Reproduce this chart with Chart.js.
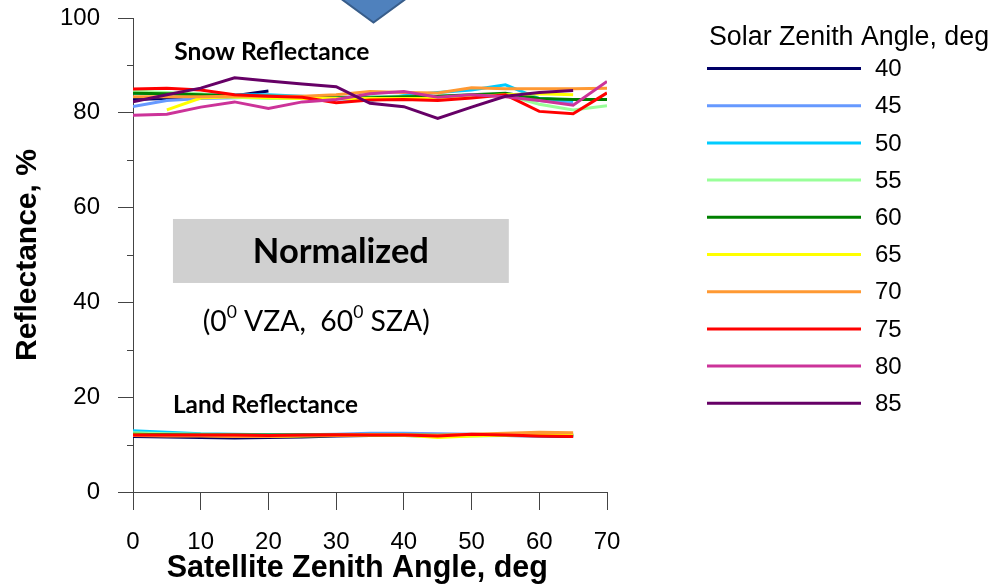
<!DOCTYPE html>
<html>
<head>
<meta charset="utf-8">
<script src="https://cdn.jsdelivr.net/npm/chart.js@4.4.1/dist/chart.umd.min.js"></script>
<style>
  html, body { margin: 0; padding: 0; background: #ffffff; }
  canvas { display: block; }
</style>
</head>
<body>
<canvas id="chart" width="1005" height="586"></canvas>
<script>
// Satellite zenith angles (deg) along the x axis
const viewAngles = [0, 5, 10, 15, 20, 25, 30, 35, 40, 45, 50, 55, 60, 65, 70];

// Solar zenith angle of each series and its line colour
const solarAngles = ['40', '45', '50', '55', '60', '65', '70', '75', '80', '85'];
const seriesColors = ['#000066', '#6699ff', '#00ccff', '#99ff99', '#008000',
                      '#ffff00', '#ff9933', '#ff0000', '#cc3399', '#660066'];

// Snow reflectance, %  (null = no value at that angle)
const snow40 = [82.8, 83.0, 83.2, 83.6, 84.6, null, null, null, null, null, null, null, null, null, null];
const snow45 = [81.3, 82.6, 83.0, 83.2, 83.4, 83.4, 83.3, 83.4, 83.5, 83.5, 83.6, 83.8, 82.6, 82.0, null];
const snow50 = [84.1, 84.0, 83.8, 83.8, 83.8, 83.5, 83.0, 82.6, 83.6, 84.3, 84.8, 85.9, 83.0, 82.6, null];
const snow55 = [84.6, 84.3, 84.0, 83.3, 83.0, 83.0, 83.2, 83.4, 83.4, 83.5, 83.6, 83.8, 81.8, 80.6, 81.5];
const snow60 = [84.1, 84.0, 83.8, 83.6, 83.5, 83.4, 83.2, 83.2, 83.4, 83.5, 83.8, 84.1, 83.0, 82.8, 82.8];
const snow65 = [null, 80.6, 83.1, 83.4, 83.2, 83.0, 83.0, 83.0, 83.0, 83.0, 83.4, 83.8, 84.0, 83.8, null];
const snow70 = [83.4, 83.4, 83.4, 83.5, 83.5, 83.5, 83.8, 84.5, 84.3, 84.2, 85.3, 85.1, 85.1, 85.1, 85.2];
const snow75 = [85.0, 85.2, 84.8, 83.8, 83.5, 83.3, 82.1, 82.7, 82.8, 82.6, 83.1, 83.8, 80.3, 79.8, 84.2];
const snow80 = [79.5, 79.7, 81.2, 82.3, 80.9, 82.3, 82.8, 84.0, 84.5, 83.3, 83.8, 83.4, 82.6, 81.6, 86.6];
const snow85 = [82.3, 83.8, 85.2, 87.4, 86.7, 86.1, 85.5, 82.0, 81.3, 78.8, 81.2, 83.5, 84.3, 84.7, null];

// Land reflectance, %
const land40 = [11.7, 11.6, 11.5, 11.4, 11.5, 11.6, 11.8, 11.9, 11.9, 11.8, 11.9, 11.9, 11.8, 11.7, null];
const land45 = [12.3, 12.1, 12.0, 12.0, 12.0, 12.1, 12.2, 12.4, 12.4, 12.3, 12.2, 12.1, 12.0, 11.9, null];
const land50 = [12.9, 12.6, 12.3, 12.2, 12.1, 12.1, 12.1, 12.2, 12.2, 12.1, 12.1, 12.0, 12.0, 11.9, null];
const land55 = [12.5, 12.3, 12.2, 12.1, 12.0, 12.0, 12.0, 12.0, 11.9, 11.7, 11.8, 11.9, 12.0, 12.0, null];
const land60 = [12.2, 12.1, 12.0, 12.0, 12.0, 12.0, 12.0, 12.0, 12.0, 11.9, 12.0, 12.0, 12.0, 12.0, null];
const land65 = [12.0, 11.9, 11.9, 11.8, 11.7, 11.8, 11.9, 12.0, 12.0, 11.5, 11.8, 12.0, 12.1, 12.2, null];
const land70 = [11.9, 11.8, 11.8, 11.7, 11.7, 11.9, 12.0, 12.1, 12.1, 12.0, 12.2, 12.4, 12.6, 12.5, null];
const land75 = [12.0, 12.0, 12.0, 12.0, 11.9, 12.0, 12.1, 12.0, 12.0, 11.8, 12.2, 12.0, 11.8, 11.7, null];

const snowSeries = [snow40, snow45, snow50, snow55, snow60, snow65, snow70, snow75, snow80, snow85];
const landSeries = [land40, land45, land50, land55, land60, land65, land70, land75];

// Y-axis tick values (labelled every 20, minor marks in between)
const yTickStep = 10;
const yLabelStep = 20;

const FONT = '"Liberation Sans", Arial, sans-serif';
const NOTE_FONT = 'Lato, "Open Sans", sans-serif';

function toPoints(values) {
  return viewAngles.map((a, i) => ({ x: a, y: values[i] }));
}

const datasets = [];
snowSeries.forEach((vals, i) => {
  datasets.push({
    label: solarAngles[i],
    data: toPoints(vals),
    borderColor: seriesColors[i],
    backgroundColor: seriesColors[i],
    borderWidth: 3,
    pointRadius: 0,
    tension: 0,
    order: 100 - i,
    isSnow: true
  });
});
landSeries.forEach((vals, i) => {
  datasets.push({
    label: 'land ' + solarAngles[i],
    data: toPoints(vals),
    borderColor: seriesColors[i],
    backgroundColor: seriesColors[i],
    borderWidth: 3,
    pointRadius: 0,
    tension: 0,
    order: 100 - i,
    isSnow: false
  });
});

function fitSize(ctx, text, weight, family, width) {
  ctx.font = weight + ' 100px ' + family;
  return 100 * width / ctx.measureText(text).width;
}

// Short minor tick marks on the y axis
const minorTicks = {
  id: 'minorTicks',
  afterDraw(chart) {
    const { ctx, scales: { y }, chartArea } = chart;
    ctx.save();
    ctx.strokeStyle = '#444';
    ctx.lineWidth = 1;
    for (let v = y.min + yTickStep; v < y.max; v += yLabelStep) {
      const py = Math.round(y.getPixelForValue(v)) + 0.5;
      ctx.beginPath();
      ctx.moveTo(chartArea.left - 6, py);
      ctx.lineTo(chartArea.left, py);
      ctx.stroke();
    }
    ctx.restore();
  }
};

// Text notes, the normalisation box and the pointer arrow
const notes = {
  id: 'notes',
  afterDraw(chart) {
    const { ctx, scales: { x, y } } = chart;
    ctx.save();
    ctx.fillStyle = '#000';
    ctx.textBaseline = 'middle';
    ctx.textAlign = 'left';

    // Snow / land labels
    let s = fitSize(ctx, 'Snow Reflectance', 'bold', NOTE_FONT, 195);
    ctx.font = 'bold ' + s.toFixed(1) + 'px ' + NOTE_FONT;
    ctx.fillText('Snow Reflectance', x.getPixelForValue(6.1), y.getPixelForValue(92.8));
    s = fitSize(ctx, 'Land Reflectance', 'bold', NOTE_FONT, 185);
    ctx.font = 'bold ' + s.toFixed(1) + 'px ' + NOTE_FONT;
    ctx.fillText('Land Reflectance', x.getPixelForValue(5.9), y.getPixelForValue(18.3));

    // Normalized box
    const bx0 = x.getPixelForValue(5.9), bx1 = x.getPixelForValue(55.5);
    const by0 = y.getPixelForValue(57.6), by1 = y.getPixelForValue(44.1);
    ctx.fillStyle = '#d0d0d0';
    ctx.fillRect(bx0, by0, bx1 - bx0, by1 - by0);
    ctx.fillStyle = '#000';
    s = fitSize(ctx, 'Normalized', 'bold', NOTE_FONT, 176);
    ctx.font = 'bold ' + s.toFixed(1) + 'px ' + NOTE_FONT;
    ctx.textAlign = 'center';
    ctx.fillText('Normalized', (bx0 + bx1) / 2, (by0 + by1) / 2 + 1);

    // (0° VZA, 60° SZA) with raised zeros, scaled to its width
    ctx.textAlign = 'left';
    const parts = [['(0', false], ['0', true], [' VZA,  60', false], ['0', true], [' SZA)', false]];
    const supRatio = 0.62;
    let w100 = 0;
    parts.forEach(([t, raised]) => {
      ctx.font = (raised ? 100 * supRatio : 100) + 'px ' + NOTE_FONT;
      w100 += ctx.measureText(t).width;
    });
    const base = 100 * 227 / w100;
    const sup = base * supRatio;
    let px = x.getPixelForValue(10.3);
    const py = y.getPixelForValue(35.9);
    parts.forEach(([t, raised]) => {
      ctx.font = (raised ? sup : base).toFixed(1) + 'px ' + NOTE_FONT;
      ctx.fillText(t, px, raised ? py - base * 0.33 : py);
      px += ctx.measureText(t).width;
    });

    // Pointer arrow at the top edge
    ctx.beginPath();
    ctx.moveTo(340, -2);
    ctx.lineTo(407, -2);
    ctx.lineTo(373.5, 22.5);
    ctx.closePath();
    ctx.fillStyle = '#4f81bd';
    ctx.fill();
    ctx.strokeStyle = '#385d8a';
    ctx.lineWidth = 2;
    ctx.stroke();
    ctx.restore();
  }
};

// Legend listing the solar zenith angles
const sideLegend = {
  id: 'sideLegend',
  afterDraw(chart) {
    const { ctx } = chart;
    ctx.save();
    ctx.textBaseline = 'middle';
    ctx.textAlign = 'left';
    ctx.fillStyle = '#000';
    const ts = fitSize(ctx, 'Solar Zenith Angle, deg', '', FONT, 280);
    ctx.font = ts.toFixed(1) + 'px ' + FONT;
    ctx.fillText('Solar Zenith Angle, deg', 709, 38);
    ctx.font = '24px ' + FONT;
    chart.data.datasets.filter(d => d.isSnow).forEach((d, i) => {
      const ly = 68.5 + i * 37.2;
      ctx.strokeStyle = d.borderColor;
      ctx.lineWidth = 3;
      ctx.beginPath();
      ctx.moveTo(707, ly);
      ctx.lineTo(861, ly);
      ctx.stroke();
      ctx.fillText(d.label, 875, ly + 1);
    });
    ctx.restore();
  }
};

new Chart(document.getElementById('chart'), {
  type: 'line',
  data: { datasets },
  options: {
    responsive: false,
    animation: false,
    devicePixelRatio: 1,
    layout: { padding: { left: 0, top: 18, right: 398, bottom: 0 } },
    plugins: {
      legend: { display: false },
      tooltip: { enabled: false }
    },
    scales: {
      x: {
        type: 'linear',
        min: 0,
        max: 70,
        afterFit(scale) {
          scale.height = 94;
          scale.paddingLeft = 0;
          scale.paddingRight = 0;
        },
        ticks: {
          stepSize: 10,
          color: '#000',
          font: { family: FONT, size: 24 },
          padding: 18,
          maxRotation: 0
        },
        grid: {
          drawOnChartArea: false,
          drawTicks: true,
          tickLength: 18,
          color: '#444'
        },
        border: { display: true, color: '#444', width: 1 },
        title: {
          display: true,
          text: 'Satellite Zenith Angle, deg   ',
          color: '#000',
          font: { family: FONT, size: 30.5, weight: 'bold' },
          padding: { top: 0, bottom: -1 }
        }
      },
      y: {
        min: 0,
        max: 100,
        afterFit(scale) {
          scale.width = 133;
          scale.paddingTop = 0;
          scale.paddingBottom = 0;
        },
        ticks: {
          stepSize: yTickStep,
          color: '#000',
          font: { family: FONT, size: 24 },
          padding: 18,
          callback: v => (v % yLabelStep === 0 ? v : '')
        },
        grid: {
          drawOnChartArea: false,
          drawTicks: true,
          tickLength: 15,
          color: c => (c.tick && c.tick.value % yLabelStep === 0 ? '#444' : 'rgba(0,0,0,0)')
        },
        border: { display: true, color: '#444', width: 1 },
        title: {
          display: true,
          text: 'Reflectance, %',
          color: '#000',
          font: { family: FONT, size: 30, weight: 'bold' },
          padding: { top: 10, bottom: 0 }
        }
      }
    }
  },
  plugins: [minorTicks, notes, sideLegend]
});
</script>
</body>
</html>
